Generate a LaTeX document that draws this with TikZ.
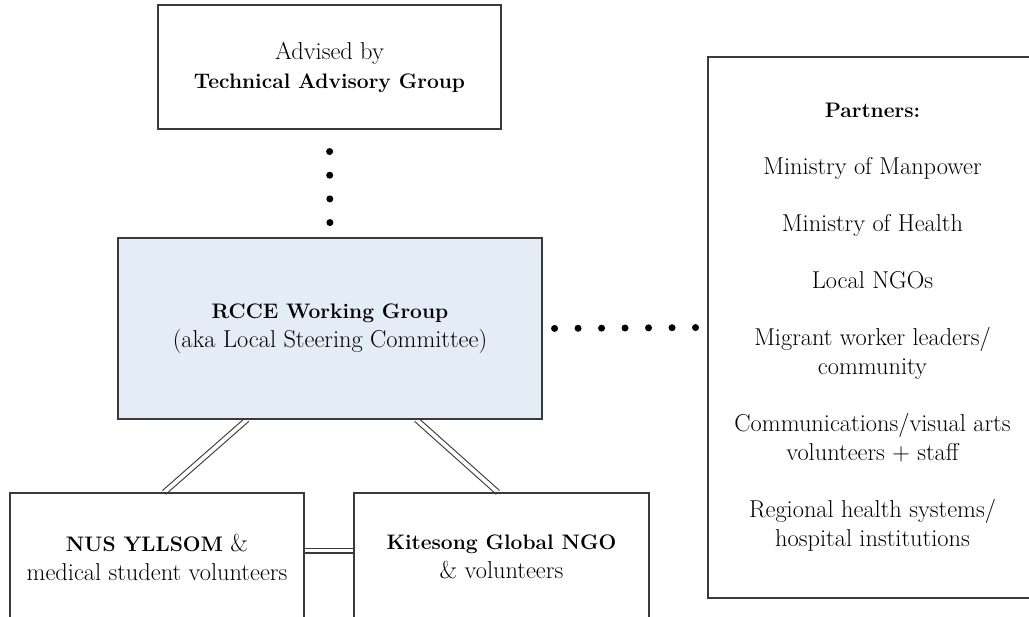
\documentclass[tikz,border=0pt]{standalone}
\usepackage{fontspec}
\usetikzlibrary{calc}
\pgfdeclarelayer{bg}
\pgfsetlayers{bg,main}
\definecolor{boxc}{HTML}{3A3A3A}
\definecolor{rccefill}{HTML}{E4ECF8}
\newcommand{\rgsz}{\fontsize{24.4}{29}\selectfont}
\newcommand{\bdsz}{\fontsize{21}{29}\selectfont\bfseries}
\begin{document}
\begin{tikzpicture}[x=1pt,y=-1pt,
  box/.style={draw=boxc, line width=1.1pt, align=center, inner sep=0pt, font=\rgsz},
  dbl/.style={draw=boxc, double=white, double distance=3.8pt, line width=1.1pt},
  dotline/.style={draw=black, line width=7pt, line cap=round, dash pattern=on 0pt off #1},
]
\useasboundingbox (0,0) rectangle (1029,617);

\node[box, minimum width=343pt, minimum height=124pt] (tag) at (329.5,67)
  {Advised by\\{\bdsz Technical Advisory Group}};

\node[box, fill=rccefill, minimum width=424pt, minimum height=181pt] (rcce) at (330,328.5)
  {{\bdsz RCCE Working Group}\\(aka Local Steering Committee)};

\node[box, minimum width=294pt, minimum height=128pt] (nus) at (157,557)
  {{\bdsz NUS YLLSOM} \&\\medical student volunteers};

\node[box, minimum width=295pt, minimum height=128pt] (kit) at (501.5,557)
  {{\bdsz Kitesong Global NGO}\\\& volunteers};

\node[box, minimum width=329pt, minimum height=541pt] (par) at (872.5,327.5)
  {{\bdsz Partners:}\\[28pt]
   Ministry of Manpower\\[28pt]
   Ministry of Health\\[28pt]
   Local NGOs\\[28pt]
   Migrant worker leaders/\\community\\[28pt]
   Communications/visual arts\\volunteers + staff\\[28pt]
   Regional health systems/\\hospital institutions};

\begin{pgfonlayer}{bg}
\draw[dbl] ($(rcce.south west)!0.305!(rcce.south east)$) -- ($(nus.north west)!0.524!(nus.north east)$);
\draw[dbl] ($(rcce.south west)!0.703!(rcce.south east)$) -- ($(kit.north west)!0.488!(kit.north east)$);
\draw[dbl] ($(nus.north east)!0.45!(nus.south east)$) -- ($(kit.north west)!0.45!(kit.south west)$);
\end{pgfonlayer}

\draw[dotline=23.67pt, dash phase=1.67pt] (tag.south) -- (rcce.north);
\draw[dotline=23.5pt, dash phase=11.5pt] (rcce.east) -- (par.west);
\end{tikzpicture}
\end{document}
